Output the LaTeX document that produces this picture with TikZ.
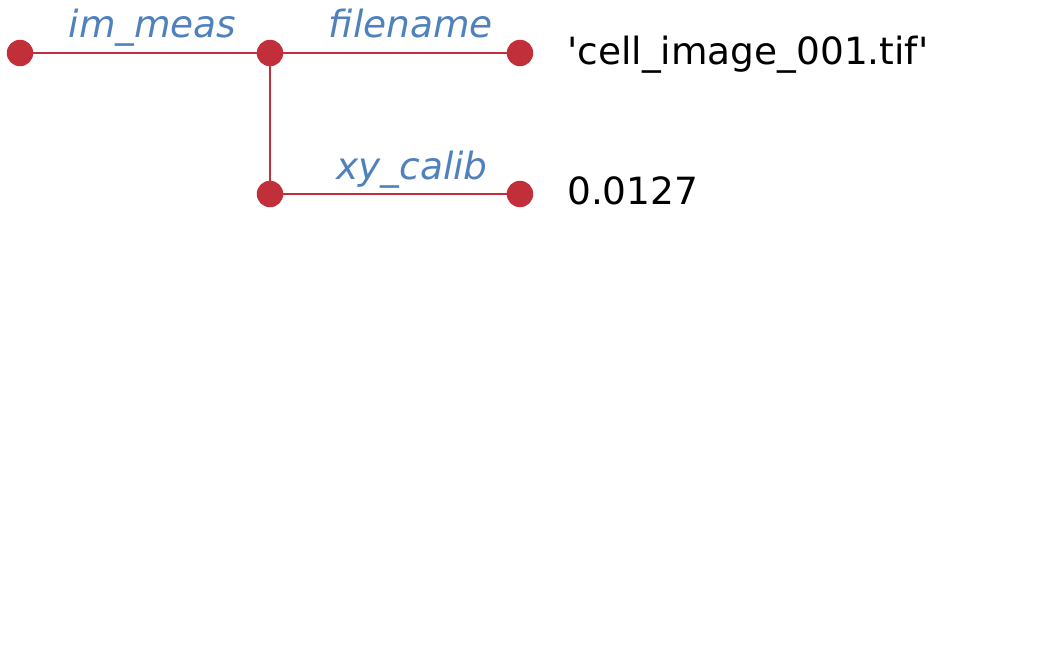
\documentclass[tikz,border=0pt]{standalone}
\usepackage{fontspec}
\setmainfont{DejaVu Sans}
\definecolor{dotred}{HTML}{C1303A}
\definecolor{labblue}{HTML}{4F81BD}
\tikzset{
  dot/.style={circle,fill=dotred,draw=none,minimum size=26.5pt,inner sep=0pt},
  edge/.style={draw=dotred,line width=2.8pt},
  lab/.style={text=labblue,font=\fontsize{37.5}{45}\selectfont\itshape,anchor=base,inner sep=0pt},
  val/.style={text=black,font=\fontsize{37.5}{45}\selectfont,anchor=base west,inner sep=0pt}
}
\begin{document}
\begin{tikzpicture}[x=1pt,y=-1pt]
\useasboundingbox (0,0) rectangle (1055,671);
\node[dot] (root) at (20,53) {};
\node[dot] (mid) at (270,53) {};
\node[dot] (fn) at (520,53) {};
\node[dot] (mid2) at (270,194) {};
\node[dot] (xy) at (520,194) {};
\draw[edge] (root) -- (mid);
\draw[edge] (mid) -- (fn);
\draw[edge] (mid) -- (mid2);
\draw[edge] (mid2) -- (xy);
\node[lab] (l1) at (152.5,38) {im\_meas};
\node[lab] (l2) at (411,38) {filename};
\node[lab] (l3) at (412,180) {xy\_calib};
\node[val] (v1) at (567,65) {\textquotesingle cell\_image\_001.tif\textquotesingle};
\node[val] (v2) at (567,205) {0.0127};
\end{tikzpicture}
\end{document}
